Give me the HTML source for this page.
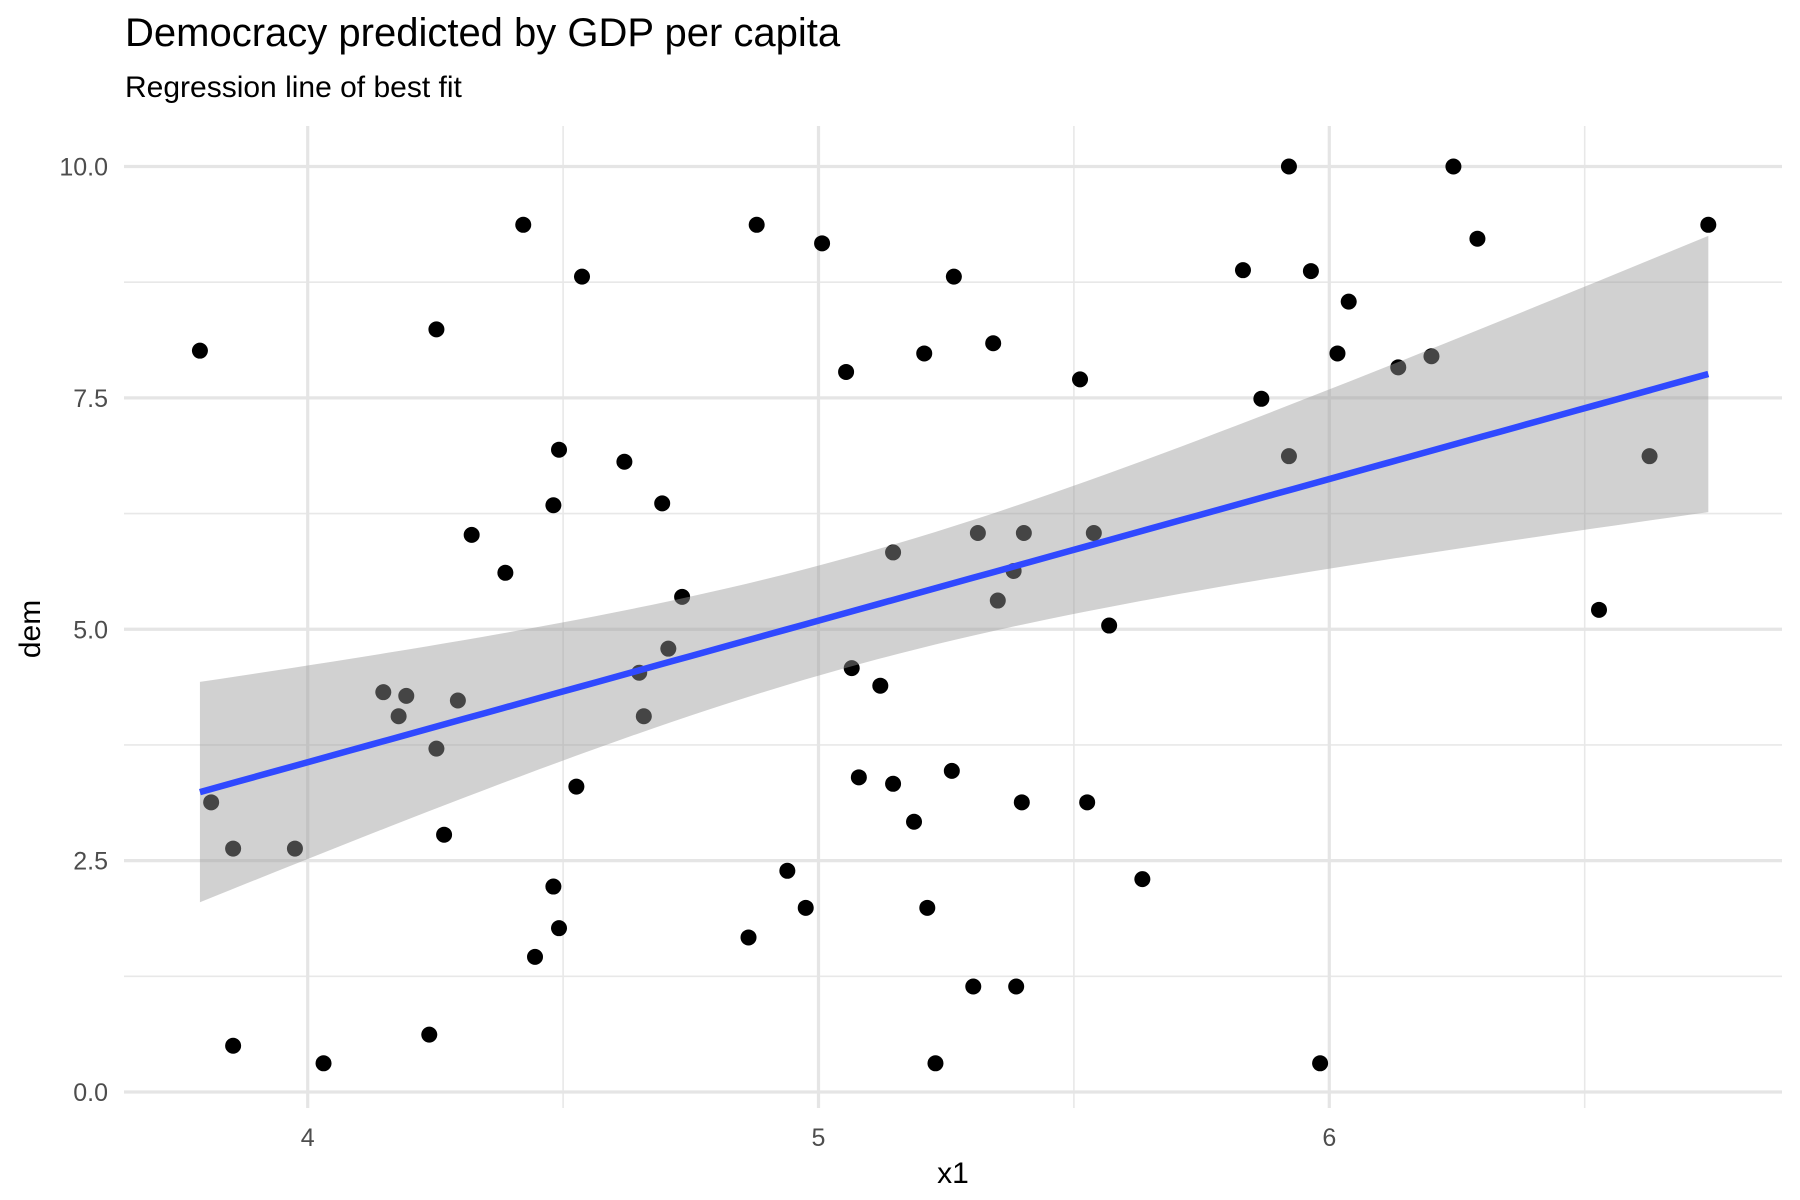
<!DOCTYPE html>
<html><head><meta charset="utf-8">
<style>
html,body{margin:0;padding:0;background:#fff;}
svg{display:block;font-family:"Liberation Sans",Arial,sans-serif;}
</style></head>
<body>
<svg id="chart" width="1800" height="1200" viewBox="0 0 1800 1200" xmlns="http://www.w3.org/2000/svg">
<text x="125" y="46" font-size="40" fill="#000">Democracy predicted by GDP per capita</text>
<text x="125" y="97" font-size="30" fill="#000">Regression line of best fit</text>
<g id="grid"></g>
<g id="points"></g>
<g id="smooth"></g>
<g id="axes"></g>
<text x="953" y="1183" font-size="30" text-anchor="middle" fill="#000">x1</text>
<text transform="translate(40,629) rotate(-90)" font-size="30" text-anchor="middle" fill="#000">dem</text>
</svg>
<script>
const xValues = [3.789,3.811,3.854,3.854,3.975,4.031,4.148,4.178,4.193,4.238,4.252,4.252,4.267,4.294,4.321,4.387,4.422,4.445,4.481,4.481,4.492,4.492,4.526,4.537,4.620,4.649,4.658,4.694,4.706,4.733,4.863,4.879,4.939,4.975,5.007,5.054,5.065,5.079,5.121,5.146,5.146,5.187,5.207,5.213,5.229,5.261,5.265,5.303,5.312,5.342,5.351,5.382,5.387,5.398,5.402,5.512,5.526,5.539,5.569,5.634,5.831,5.867,5.921,5.921,5.964,5.982,6.016,6.038,6.135,6.200,6.243,6.290,6.528,6.627,6.742];
const yValues = [8.01,3.13,2.63,0.50,2.63,0.31,4.32,4.06,4.28,0.62,8.24,3.71,2.78,4.23,6.02,5.61,9.37,1.46,6.34,2.22,6.94,1.77,3.30,8.81,6.81,4.53,4.06,6.36,4.79,5.35,1.67,9.37,2.39,1.99,9.17,7.78,4.58,3.40,4.39,5.83,3.33,2.92,7.98,1.99,0.31,3.47,8.81,1.14,6.04,8.09,5.31,5.63,1.14,3.13,6.04,7.70,3.13,6.04,5.04,2.30,8.88,7.49,10.0,6.87,8.87,0.31,7.98,8.54,7.83,7.95,10.0,9.22,5.21,6.87,9.37];
const xMajorTicks = [4,5,6];
const xMinorTicks = [4.5,5.5,6.5];
const yMajorTicks = [0,2.5,5,7.5,10];
const yTickLabels = ["0.0","2.5","5.0","7.5","10.0"];
const yMinorTicks = [1.25,3.75,6.25,8.75];

const NS="http://www.w3.org/2000/svg";
const PL=124, PR=1782, PT=126, PB=1108;
function sx(v){return 307.7+(v-4)*510.8;}
function sy(v){return 1092-v*92.55;}
function mk(tag,attrs,parent){const e=document.createElementNS(NS,tag);for(const k in attrs)e.setAttribute(k,attrs[k]);parent.appendChild(e);return e;}

const grid=document.getElementById('grid');
yMinorTicks.forEach(v=>{const l=mk('line',{x1:PL,x2:PR,y1:sy(v),y2:sy(v),stroke:'#e8e8e8','stroke-width':1.6},grid);

});
xMinorTicks.forEach(v=>{const l=mk('line',{x1:sx(v),x2:sx(v),y1:PT,y2:PB,stroke:'#e8e8e8','stroke-width':1.6},grid);

});
yMajorTicks.forEach(v=>{const l=mk('line',{x1:PL,x2:PR,y1:sy(v),y2:sy(v),stroke:'#e5e5e5','stroke-width':3.2},grid);

});
xMajorTicks.forEach(v=>{const l=mk('line',{x1:sx(v),x2:sx(v),y1:PT,y2:PB,stroke:'#e5e5e5','stroke-width':3.2},grid);

});

const pts=document.getElementById('points');
xValues.forEach((x,i)=>{const c=mk('circle',{cx:sx(x),cy:sy(yValues[i]),r:8,fill:'#000'},pts);

});

const n=xValues.length;
const mx=xValues.reduce((a,b)=>a+b,0)/n, my=yValues.reduce((a,b)=>a+b,0)/n;
let sxx=0,sxy=0;xValues.forEach((x,i)=>{sxx+=(x-mx)**2;sxy+=(x-mx)*(yValues[i]-my);});
const b=sxy/sxx,a=my-b*mx;
let sse=0;xValues.forEach((x,i)=>{sse+=(yValues[i]-a-b*x)**2;});
const s=Math.sqrt(sse/(n-2)), t=1.993;
const x0=Math.min(...xValues), x1=Math.max(...xValues);
const up=[],lo=[],ln=[];
for(let k=0;k<=80;k++){const x=x0+(x1-x0)*k/80;const f=a+b*x;const se=s*Math.sqrt(1/n+(x-mx)**2/sxx);
up.push(sx(x)+','+sy(f+t*se));lo.unshift(sx(x)+','+sy(f-t*se));ln.push(sx(x)+','+sy(f));}
const sm=document.getElementById('smooth');
const band=mk('polygon',{points:up.concat(lo).join(' '),fill:'#999999','fill-opacity':0.45},sm);


const line=mk('polyline',{points:ln.join(' '),fill:'none',stroke:'#3049FF','stroke-width':6.5},sm);



const ax=document.getElementById('axes');
yMajorTicks.forEach((v,i)=>{const tx=mk('text',{x:108,y:sy(v)+9,'font-size':25,'text-anchor':'end',fill:'#4d4d4d'},ax);tx.textContent=yTickLabels[i];

});
xMajorTicks.forEach(v=>{const tx=mk('text',{x:sx(v),y:1146,'font-size':25,'text-anchor':'middle',fill:'#4d4d4d'},ax);tx.textContent=String(v);

});
</script>
</body></html>
